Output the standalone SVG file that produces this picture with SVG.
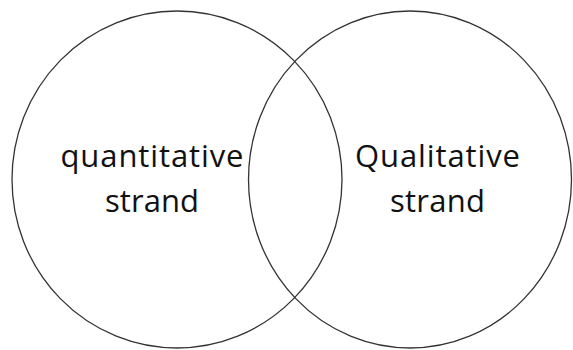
<svg xmlns="http://www.w3.org/2000/svg" width="573" height="350" viewBox="0 0 573 350">
<style>
.c{fill:none;stroke:#333333;stroke-width:1.3}
.t{font-family:"Open Sans","Noto Sans","Liberation Sans",sans-serif;font-size:31px;fill:#111111;text-anchor:middle}
</style>
<rect width="573" height="350" fill="#ffffff"/>
<g id="quantitative">
<ellipse class="c" cx="177" cy="179.5" rx="165" ry="168.5"/>
<text class="t" x="152" y="167" textLength="183">quantitative</text>
<text class="t" x="152" y="212" textLength="94">strand</text>
</g>
<g id="qualitative">
<ellipse class="c" cx="410" cy="179.5" rx="161.5" ry="168.5"/>
<text class="t" x="437.5" y="167" textLength="165">Qualitative</text>
<text class="t" x="437.5" y="212" textLength="95">strand</text>
</g>
<g id="connectors"></g>
</svg>
